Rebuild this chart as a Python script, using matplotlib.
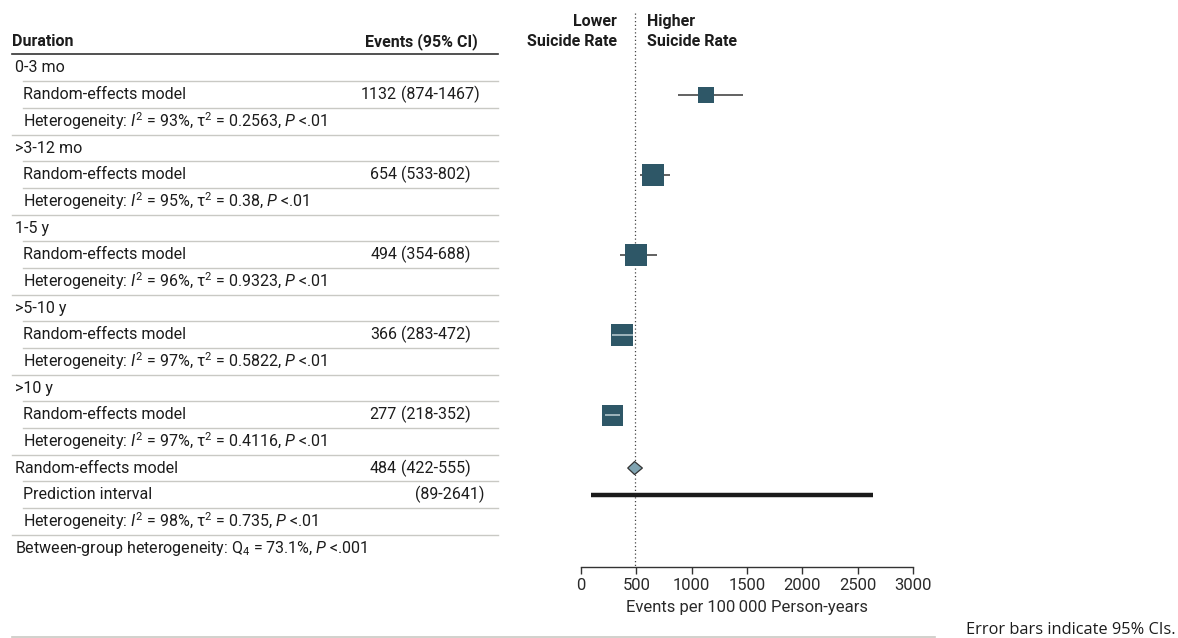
import matplotlib.pyplot as plt
import matplotlib.transforms as mtransforms
from matplotlib.lines import Line2D

plt.rcParams["font.family"] = ["Roboto", "DejaVu Sans"]
plt.rcParams["mathtext.fontset"] = "custom"
plt.rcParams["mathtext.rm"] = "Roboto"
plt.rcParams["mathtext.it"] = "Roboto:italic"
plt.rcParams["mathtext.bf"] = "Roboto:bold"

# --- data ---
groups = ["0-3 mo", ">3-12 mo", "1-5 y", ">5-10 y", ">10 y"]
group_est = [1132, 654, 494, 366, 277]
group_lo = [874, 533, 354, 283, 218]
group_hi = [1467, 802, 688, 472, 352]
group_box_px = [16, 22, 22, 22, 21]
group_i2 = [93, 95, 96, 97, 97]
group_tau2 = ["0.2563", "0.38", "0.9323", "0.5822", "0.4116"]

overall_est, overall_lo, overall_hi = 484, 422, 555
pred_lo, pred_hi = 89, 2641
overall_i2, overall_tau2 = 98, "0.735"
q_between, p_between = "73.1%", "<.001"

x_ticks = [0, 500, 1000, 1500, 2000, 2500, 3000]

TXT = "#1c1c1c"
BOX = "#2e5767"
DIAMOND = "#7fa3b1"
GRID = "#c9c9c4"
FS = 11.5

W, H = 1178, 638
fig = plt.figure(figsize=(W / 100, H / 100), dpi=100)

# forest axes: x = 0..3000 between px 581 and 913, rows 26.67 px apart from px 68
row_px, row0_px, axis_px = 26.67, 68.0, 566.7
ax_left, ax_right = 581.0, 913.0
y_bottom = (axis_px - row0_px) / row_px
y_top = -row0_px / row_px
ax = fig.add_axes([ax_left / W, 1 - axis_px / H, (ax_right - ax_left) / W, axis_px / H])
ax.set_xlim(0, 3000)
ax.set_ylim(y_bottom, y_top)
ax.patch.set_alpha(0)
for side in ["top", "right", "left"]:
    ax.spines[side].set_visible(False)
ax.spines["bottom"].set_color("#333333")
ax.spines["bottom"].set_linewidth(1.0)
ax.set_yticks([])
ax.set_xticks(x_ticks)
ax.tick_params(axis="x", direction="out", length=5, width=1.0, color="#333333",
               labelsize=12, labelcolor="#2a2a2a", pad=3)
ax.set_xlabel("Events per 100\u2009000 Person-years", fontsize=12, color="#2a2a2a", labelpad=5)

units_per_px = 3000 / (ax_right - ax_left)
trans = mtransforms.blended_transform_factory(fig.transFigure, ax.transData)


def fx(px):
    return px / W


# --- build table rows ---
rows = []  # (label, indent, est_text, ci_text)
for g, e, lo, hi, i2, t2 in zip(groups, group_est, group_lo, group_hi, group_i2, group_tau2):
    rows.append((g, 0, "", ""))
    rows.append(("Random-effects model", 1, f"{e}", f"({lo}-{hi})"))
    rows.append((f"Heterogeneity: $I^{{2}}$ = {i2}%, \u03c4$^{{2}}$ = {t2}, $P$ <.01", 1, "", ""))
rows.append(("Random-effects model", 0, f"{overall_est}", f"({overall_lo}-{overall_hi})"))
rows.append(("Prediction interval", 1, "", f"({pred_lo}-{pred_hi})"))
rows.append((f"Heterogeneity: $I^{{2}}$ = {overall_i2}%, \u03c4$^{{2}}$ = {overall_tau2}, $P$ <.01", 1, "", ""))
rows.append((f"Between-group heterogeneity: Q$_{{4}}$ = {q_between}, $P$ {p_between}", 0, "", ""))

text_x = {0: 15, 1: 23}
line_x = {0: 12, 1: 23}
for i, (label, indent, est_txt, ci_txt) in enumerate(rows):
    ax.text(fx(text_x[indent]), i, label, transform=trans, ha="left", va="center",
            fontsize=FS, color=TXT, clip_on=False)
    if est_txt:
        ax.text(fx(397), i, est_txt, transform=trans, ha="right", va="center",
                fontsize=FS, color=TXT, clip_on=False)
        ax.text(fx(401), i, ci_txt, transform=trans, ha="left", va="center",
                fontsize=FS, color=TXT, clip_on=False)
    elif ci_txt:
        ax.text(fx(484), i, ci_txt, transform=trans, ha="right", va="center",
                fontsize=FS, color=TXT, clip_on=False)
    if i + 1 < len(rows):
        nxt = rows[i + 1][1]
        ax.add_line(Line2D([fx(line_x[nxt]), fx(498)], [i + 0.5, i + 0.5], transform=trans,
                           color=GRID, lw=1.0, clip_on=False))

# header
hdr_y = -0.975
ax.text(fx(12), hdr_y, "Duration", transform=trans, ha="left", va="center",
        fontsize=FS, fontweight="bold", color=TXT, clip_on=False)
ax.text(fx(478), hdr_y, "Events (95% CI)", transform=trans, ha="right", va="center",
        fontsize=FS, fontweight="bold", color=TXT, clip_on=False)
ax.add_line(Line2D([fx(12), fx(498)], [-0.525, -0.525], transform=trans,
                   color="#333333", lw=1.2, clip_on=False))
ax.text(fx(617), -1.76, "Lower", transform=trans, ha="right", va="center",
        fontsize=FS, fontweight="bold", color=TXT, clip_on=False)
ax.text(fx(617), hdr_y, "Suicide Rate", transform=trans, ha="right", va="center",
        fontsize=FS, fontweight="bold", color=TXT, clip_on=False)
ax.text(fx(647), -1.76, "Higher", transform=trans, ha="left", va="center",
        fontsize=FS, fontweight="bold", color=TXT, clip_on=False)
ax.text(fx(647), hdr_y, "Suicide Rate", transform=trans, ha="left", va="center",
        fontsize=FS, fontweight="bold", color=TXT, clip_on=False)

# reference line at pooled estimate
ax.vlines(overall_est, -2.05, y_bottom, colors="#444444", linestyles=(0, (1, 2)), lw=0.9, zorder=1)

# group estimates
for k, (e, lo, hi, bpx) in enumerate(zip(group_est, group_lo, group_hi, group_box_px)):
    y = 3 * k + 1
    ax.hlines(y, lo, hi, colors="#555555", lw=1.3, zorder=2)
    ax.plot([e], [y], marker="s", markersize=bpx * 0.72, color=BOX, mec=BOX, mew=0, zorder=3)
    half = bpx / 2 * units_per_px
    if lo >= e - half - 2 * units_per_px and hi <= e + half + 2 * units_per_px:
        ax.hlines(y, lo, hi, colors="#a7bcc4", lw=1.3, zorder=4)

# pooled diamond
yd = 3 * len(groups)
dh = 6.5 / row_px
ax.fill([overall_lo, overall_est, overall_hi, overall_est], [yd, yd - dh, yd, yd + dh],
        facecolor=DIAMOND, edgecolor="#333333", lw=0.9, zorder=3)

# prediction interval
ax.hlines(yd + 1, pred_lo, pred_hi, colors="#1a1a1a", lw=3.2, zorder=3)

# footer
fig.add_artist(Line2D([fx(12), fx(935)], [1 - 637 / H, 1 - 637 / H], color=GRID, lw=1.2))
fig.text(fx(1176), 1 - 630 / H, "Error bars indicate 95% CIs.", ha="right", va="center",
         fontsize=11.8, color=TXT, family=["Open Sans", "DejaVu Sans"])

fig.savefig("out.png", dpi=100)
